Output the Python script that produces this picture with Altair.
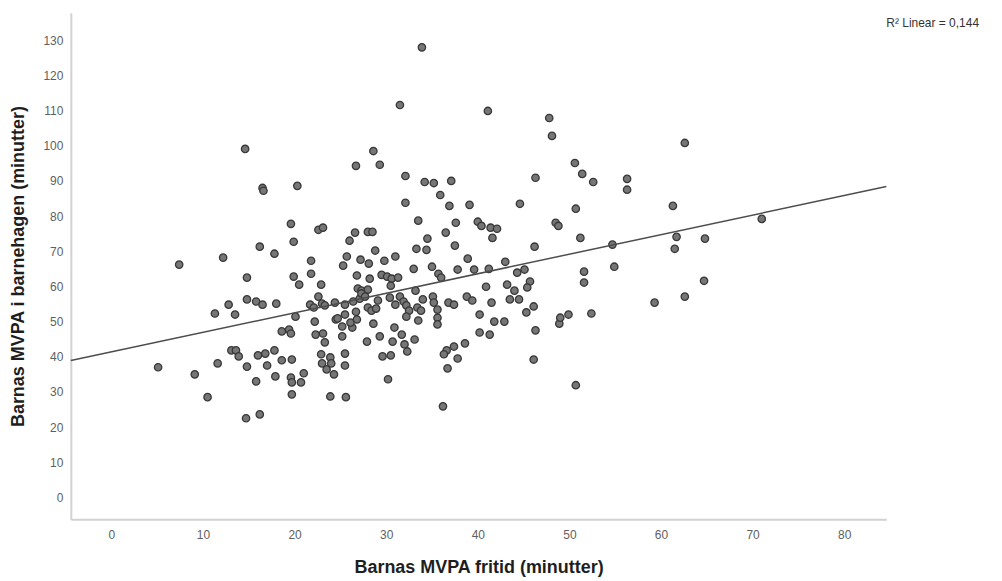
import altair as alt
import pandas as pd

# Barnas MVPA fritid (minutter) -- x values
X_FRITID = [
    33.9, 31.5, 41.1, 47.8, 48.1, 14.6, 28.6, 62.6, 26.7, 29.3,
    50.6, 51.4, 52.6, 56.3, 56.3, 32.1, 34.2, 35.2, 37.1, 46.3,
    16.5, 16.6, 20.3, 35.9, 32.1, 36.9, 39.1, 44.6, 50.7, 61.3,
    33.5, 37.6, 40.0, 40.4, 41.4, 42.1, 48.5, 48.8, 71.0, 36.5,
    34.5, 41.6, 51.2, 61.7, 61.5, 64.8, 26.6, 26.0, 28.0, 28.5,
    37.5, 33.3, 34.4, 28.8, 46.2, 54.7, 19.6, 22.6, 23.1, 19.9,
    16.2, 17.8, 12.2, 7.4, 21.8, 25.7, 25.3, 27.2, 28.1, 29.8,
    31.0, 38.9, 43.0, 35.0, 33.0, 37.8, 39.6, 41.2, 45.1, 44.3,
    54.9, 51.6, 51.6, 26.8, 28.2, 29.5, 30.1, 30.6, 31.3, 35.7,
    36.0, 45.7, 30.5, 40.9, 43.2, 45.4, 26.9, 27.3, 28.0, 33.2,
    44.0, 64.7, 14.8, 19.9, 20.5, 21.8, 22.9, 12.8, 11.3, 13.5,
    14.8, 15.8, 16.5, 18.0, 21.7, 22.1, 22.6, 23.0, 20.1, 22.2,
    18.6, 19.4, 19.6, 22.3, 23.1, 23.3, 13.1, 13.6, 13.9, 16.0,
    16.8, 17.8, 14.8, 17.0, 18.6, 19.7, 22.9, 23.0, 23.5, 11.6,
    5.1, 9.1, 15.8, 17.9, 19.6, 19.7, 20.7, 21.0, 10.5, 19.7,
    23.9, 14.7, 16.2, 24.5, 24.4, 23.3, 25.5, 26.4, 27.1, 27.3,
    27.7, 29.1, 30.4, 31.5, 31.0, 31.9, 28.0, 28.4, 28.9, 32.2,
    32.5, 33.4, 33.8, 34.0, 35.1, 35.2, 35.6, 36.8, 37.4, 38.8,
    39.4, 41.5, 26.7, 26.8, 24.7, 25.5, 32.2, 35.6, 35.6, 33.5,
    40.2, 41.8, 25.2, 26.3, 26.1, 28.6, 30.9, 25.2, 27.9, 29.3,
    30.7, 31.7, 33.1, 32.0, 32.3, 40.2, 41.3, 38.6, 37.4, 36.6,
    36.3, 37.8, 36.7, 25.5, 23.9, 24.0, 24.3, 25.5, 29.6, 30.5,
    30.2, 25.6, 36.2, 50.7, 46.1, 46.3, 48.9, 49.0, 49.9, 52.4,
    59.3, 62.6, 42.9, 45.3, 46.1, 43.5, 44.5,
]

# Barnas MVPA i barnehagen (minutter) -- y values
Y_BARNEHAGE = [
    128.0, 111.6, 109.9, 107.9, 102.8, 99.1, 98.5, 100.8, 94.3, 94.6,
    95.1, 92.0, 89.7, 90.6, 87.5, 91.4, 89.7, 89.4, 90.0, 90.9,
    88.0, 87.2, 88.6, 86.0, 83.8, 82.9, 83.2, 83.5, 82.1, 82.9,
    78.7, 78.1, 78.4, 77.2, 76.7, 76.4, 78.1, 77.2, 79.2, 75.3,
    73.6, 73.8, 73.8, 74.1, 70.7, 73.6, 75.3, 73.0, 75.5, 75.5,
    71.6, 70.7, 70.4, 70.2, 71.3, 71.9, 77.8, 76.1, 76.7, 72.7,
    71.3, 69.3, 68.2, 66.2, 67.3, 68.5, 65.9, 67.6, 66.5, 67.3,
    68.5, 67.9, 67.0, 65.6, 65.0, 64.8, 64.8, 65.0, 64.8, 63.9,
    65.6, 64.2, 61.1, 63.1, 62.2, 63.3, 62.8, 62.2, 62.5, 63.6,
    62.5, 61.4, 60.2, 59.9, 60.5, 59.7, 59.4, 58.8, 59.1, 58.8,
    58.8, 61.6, 62.5, 62.8, 60.5, 63.6, 60.5, 54.8, 52.3, 52.0,
    56.3, 55.7, 54.8, 55.1, 54.8, 54.0, 57.1, 55.1, 51.4, 50.0,
    47.2, 47.7, 46.6, 46.3, 46.6, 44.1, 41.8, 41.8, 40.1, 40.4,
    40.9, 41.8, 37.2, 37.5, 39.0, 39.2, 40.7, 38.1, 36.4, 38.1,
    37.0, 35.0, 33.0, 34.4, 34.1, 32.7, 32.7, 35.3, 28.5, 29.3,
    28.7, 22.5, 23.6, 50.6, 55.4, 54.6, 54.8, 55.7, 56.5, 58.0,
    57.1, 56.0, 56.8, 57.1, 54.8, 55.7, 54.0, 53.1, 53.7, 54.6,
    53.1, 54.0, 53.1, 56.3, 57.1, 55.4, 53.4, 55.4, 54.8, 57.1,
    56.0, 55.4, 52.8, 50.6, 50.9, 52.0, 51.4, 51.1, 49.2, 50.3,
    52.0, 50.0, 48.6, 48.3, 49.7, 49.4, 48.3, 45.8, 44.3, 45.8,
    44.3, 46.3, 44.9, 43.5, 41.5, 46.9, 46.3, 43.8, 42.9, 41.8,
    40.7, 39.5, 36.7, 40.9, 39.8, 38.1, 35.0, 37.5, 40.1, 40.4,
    33.6, 28.5, 25.9, 31.9, 39.2, 47.5, 49.4, 51.1, 52.0, 52.3,
    55.4, 57.1, 50.0, 52.6, 54.3, 56.3, 56.3,
]
assert len(X_FRITID) == len(Y_BARNEHAGE)

# Axis ranges and tick labels
X_DOMAIN = [-4.43, 84.6]
Y_DOMAIN = [-6.24, 137.8]
X_TICKS = [0, 10, 20, 30, 40, 50, 60, 70, 80]
Y_TICKS = [0, 10, 20, 30, 40, 50, 60, 70, 80, 90, 100, 110, 120, 130]

# Fit line endpoints (edge to edge of the axes)
FIT_X = [-4.43, 84.6]
FIT_Y = [38.9, 88.4]
R2_LABEL = "R\u00b2 Linear = 0,144"

X_TITLE = "Barnas MVPA fritid (minutter)"
Y_TITLE = "Barnas MVPA i barnehagen (minutter)"

pts = pd.DataFrame({"x": X_FRITID, "y": Y_BARNEHAGE})
fit = pd.DataFrame({"x": FIT_X, "y": FIT_Y})
lab = pd.DataFrame({"label": [R2_LABEL]})

xs = alt.Scale(domain=X_DOMAIN, nice=False, zero=False)
ys = alt.Scale(domain=Y_DOMAIN, nice=False, zero=False)

common = dict(
    grid=False, ticks=False, tickSize=0,
    domainColor="#d2d2d2", domainWidth=2,
    labelColor="#5f5f5f", labelFontSize=12, labelFont="Liberation Sans",
    titleFontSize=18, titleFontWeight="bold", titleColor="#1e1e1e",
    titleFont="Liberation Sans", labelFlush=False,
)
xaxis = alt.Axis(title=X_TITLE, values=X_TICKS, labelPadding=10, titleY=39, **common)
yaxis = alt.Axis(title=Y_TITLE, values=Y_TICKS, labelPadding=8, titleX=-43, **common)

points = alt.Chart(pts).mark_circle(
    size=55, color="#767676", stroke="#383838", strokeWidth=1.3, opacity=1
).encode(
    x=alt.X("x:Q", scale=xs, axis=xaxis),
    y=alt.Y("y:Q", scale=ys, axis=yaxis),
)

line = alt.Chart(fit).mark_line(color="#4d4d4d", strokeWidth=1.5).encode(
    x=alt.X("x:Q", scale=xs, axis=xaxis),
    y=alt.Y("y:Q", scale=ys, axis=yaxis),
)

text = alt.Chart(lab).mark_text(
    align="left", baseline="middle", fontSize=12, color="#333333",
    font="Liberation Sans",
).encode(x=alt.value(818), y=alt.value(10), text="label:N")

chart = alt.layer(points, line, text).properties(
    width=818,
    height=508,
    padding={"left": 63, "top": 4, "right": 108, "bottom": 61},
    autosize=alt.AutoSizeParams(type="none"),
).configure(font="Liberation Sans").configure_view(stroke=None)

chart.save("out.html", embed_options={"renderer": "svg", "actions": False})
